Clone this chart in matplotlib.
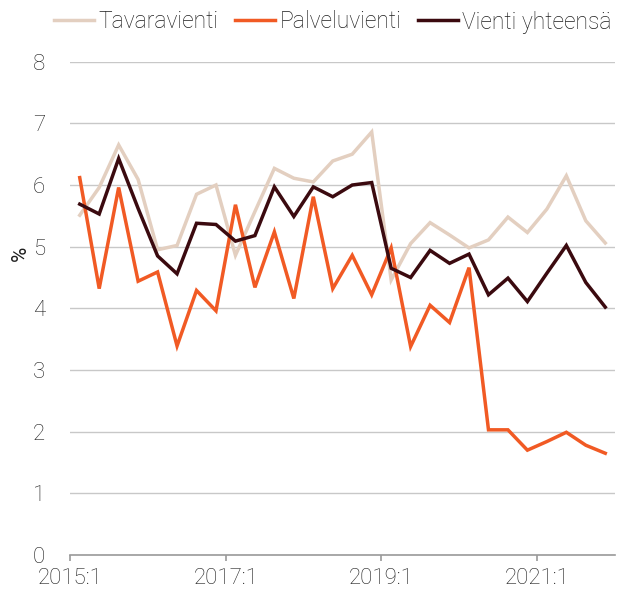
import matplotlib
matplotlib.use("Agg")
import matplotlib.pyplot as plt
import numpy as np

tick_labels = ["2015:1", "2017:1", "2019:1", "2021:1"]
series_names = ["Tavaravienti", "Palveluvienti", "Vienti yhteensä"]

tavaravienti = [5.51, 5.96, 6.65, 6.09, 4.95, 5.02, 5.85, 6.00, 4.86, 5.57,
                6.27, 6.11, 6.05, 6.39, 6.50, 6.86, 4.46, 5.05, 5.39, 5.19,
                4.98, 5.11, 5.48, 5.23, 5.61, 6.15, 5.42, 5.06]
palveluvienti = [6.12, 4.32, 5.96, 4.44, 4.59, 3.39, 4.29, 3.96, 5.68, 4.34,
                 5.24, 4.16, 5.81, 4.32, 4.86, 4.22, 4.98, 3.38, 4.05, 3.77,
                 4.66, 2.03, 2.03, 1.70, 1.84, 1.99, 1.78, 1.65]
vienti_yhteensa = [5.69, 5.53, 6.43, 5.62, 4.85, 4.56, 5.38, 5.36, 5.09, 5.18,
                   5.97, 5.49, 5.97, 5.81, 6.00, 6.04, 4.65, 4.50, 4.94, 4.73,
                   4.88, 4.22, 4.49, 4.11, 4.57, 5.02, 4.42, 4.02]

colors = ["#E3CFC0", "#F15A24", "#3B0A0F"]
text_color = "#1E1E1E"

plt.rcParams['font.family'] = ['Roboto', 'DejaVu Sans']
plt.rcParams['font.weight'] = 'light'

fig = plt.figure(figsize=(6.17, 5.97), dpi=100)
W, H = 617, 597
ax = fig.add_axes([70 / W, (H - 555) / H, 545 / W, (555 - 61.7) / H])

x = np.arange(len(tavaravienti))
for data, c, name in zip([tavaravienti, palveluvienti, vienti_yhteensa], colors, series_names):
    ax.plot(x, data, color=c, lw=2.5, label=name, solid_joinstyle='miter')

ax.set_xlim(-0.5, len(x) - 0.5)
ax.set_ylim(0, 8)
ax.set_yticks(range(0, 9))
ax.set_yticklabels([str(v) for v in range(0, 9)])
ax.yaxis.grid(True, color="#C8C8C8", lw=1.0)
ax.set_axisbelow(True)
ax.set_xticks([-0.5 + 8 * k for k in range(4)])
ax.set_xticklabels(tick_labels)

for s in ["left", "right", "top"]:
    ax.spines[s].set_visible(False)
ax.spines["bottom"].set_color("#9A9A9A")
ax.spines["bottom"].set_linewidth(1.2)
ax.spines["bottom"].set_zorder(3)

ax.tick_params(axis="y", length=0, pad=18, labelsize=16, labelcolor=text_color)
ax.tick_params(axis="x", length=4.5, width=1.2, color="#9A9A9A", pad=5, labelsize=16, labelcolor=text_color)

ax.set_ylabel("%", fontsize=15, color=text_color)
ax.yaxis.set_label_coords(-40 / 545, (555 - 253) / (555 - 61.7))

fig.legend(loc="center", bbox_to_anchor=(333 / W, (H - 22) / H), ncol=3, frameon=False,
           fontsize=16.5, handlelength=1.75, handletextpad=0.2, columnspacing=0.7,
           labelcolor=text_color, borderaxespad=0)

fig.savefig("out.png", dpi=100)
